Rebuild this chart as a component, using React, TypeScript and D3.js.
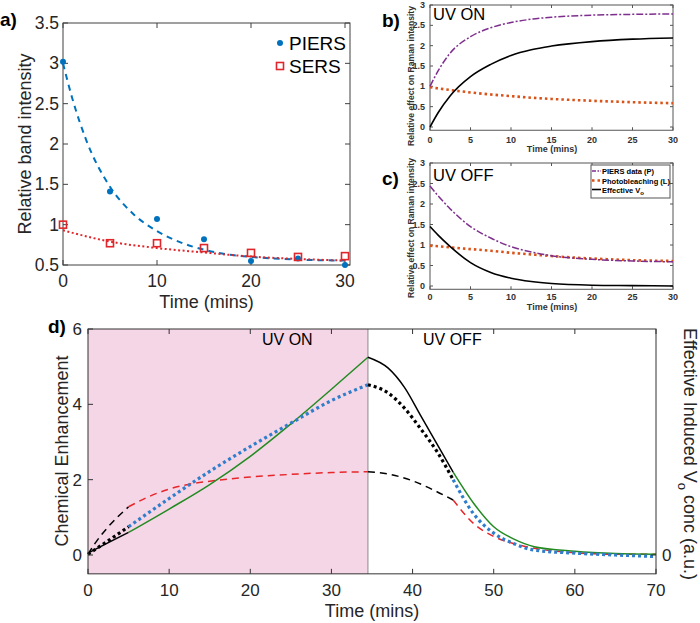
import React from "react";
import * as d3 from "d3";

// ---------- Panel a ----------
const aTimes = [0, 5, 10, 15, 20, 25, 30];
const aPiers = [3.02, 1.41, 1.07, 0.82, 0.55, 0.58, 0.5];
const aSers = [1.0, 0.77, 0.77, 0.71, 0.65, 0.6, 0.61];
const aPiersFitT = [0, 1, 2.5, 5, 7.5, 10, 12.5, 15, 17.5, 20, 25, 30];
const aPiersFit = [3.0, 2.56, 2.04, 1.47, 1.13, 0.92, 0.78, 0.69, 0.63, 0.6, 0.567, 0.555];
const aSersFitT = [0, 5, 10, 15, 20, 25, 30];
const aSersFit = [0.93, 0.79, 0.71, 0.655, 0.605, 0.575, 0.555];
const aXTicks = [0, 10, 20, 30];
const aYTicks = [0.5, 1, 1.5, 2, 2.5, 3, 3.5];

// ---------- Panels b, c ----------
const bcT = [0, 1, 2.5, 5, 7.5, 10, 12.5, 15, 20, 25, 30];
const bPiers = [1.0, 1.38, 1.82, 2.22, 2.44, 2.57, 2.65, 2.7, 2.75, 2.77, 2.78];
const bBleach = [0.98, 0.95, 0.91, 0.85, 0.8, 0.76, 0.72, 0.69, 0.645, 0.61, 0.585];
const bVo = [0.0, 0.35, 0.77, 1.24, 1.54, 1.76, 1.9, 1.99, 2.1, 2.16, 2.19];
const cPiers = [2.44, 2.2, 1.88, 1.45, 1.17, 0.96, 0.83, 0.74, 0.65, 0.61, 0.59];
const cBleach = [0.98, 0.97, 0.94, 0.9, 0.86, 0.81, 0.77, 0.73, 0.67, 0.63, 0.61];
const cVo = [1.45, 1.24, 0.96, 0.57, 0.33, 0.19, 0.11, 0.06, 0.02, 0.01, 0.0];
const bcXTicks = [0, 5, 10, 15, 20, 25, 30];
const bcYTicks = [0, 0.5, 1, 1.5, 2, 2.5, 3];
const bcLegend = ["PIERS data (P)", "Photobleaching (L)", "Effective V"];

// ---------- Panel d ----------
const dSolidT = [0, 2.5, 5, 10, 15, 20, 25, 30, 34.5, 37, 39, 41, 43, 45, 47.5, 50, 52.5, 55, 60, 65, 70];
const dSolid = [0.05, 0.33, 0.6, 1.22, 1.87, 2.62, 3.48, 4.4, 5.25, 4.96, 4.45, 3.7, 2.95, 2.2, 1.38, 0.75, 0.42, 0.22, 0.1, 0.04, 0.02];
const dDottedT = [0, 2.5, 5, 10, 15, 20, 25, 30, 34.5, 37, 39, 41, 43, 45, 47.5, 50, 52.5, 55, 60, 65, 70];
const dDotted = [0.02, 0.38, 0.75, 1.5, 2.22, 2.88, 3.5, 4.1, 4.52, 4.3, 3.9, 3.35, 2.75, 2.0, 1.1, 0.58, 0.3, 0.13, 0.05, 0.0, -0.04];
const dDashedT = [0, 1, 2.5, 5, 7.5, 10, 12.5, 15, 20, 25, 30, 34.5, 37, 40, 43, 45, 47.5, 50, 52.5, 55, 60, 65, 70];
const dDashed = [0.02, 0.35, 0.75, 1.28, 1.55, 1.75, 1.88, 1.96, 2.07, 2.14, 2.19, 2.21, 2.15, 1.97, 1.68, 1.46, 0.84, 0.49, 0.3, 0.18, 0.06, 0.02, 0.02];
const dPhases = [0, 5, 34.5, 45, 70];
const dUvOnEnd = 34.5;
const dXTicks = [0, 10, 20, 30, 40, 50, 60, 70];
const dYTicks = [0, 2, 4, 6];

const FONT = "'Liberation Sans', Arial, Helvetica, sans-serif";

type Scale = d3.ScaleLinear<number, number>;

function mkLine(x: Scale, y: Scale, ts: number[], vs: number[], lo = -Infinity, hi = Infinity) {
  const pts: [number, number][] = ts.map((t, i) => [t, vs[i]] as [number, number]).filter((p) => p[0] >= lo - 1e-9 && p[0] <= hi + 1e-9);
  return d3.line<[number, number]>().x((p) => x(p[0])).y((p) => y(p[1])).curve(d3.curveMonotoneX)(pts) || "";
}

function Frame(props: {
  x: Scale; y: Scale; x0: number; x1: number; y0: number; y1: number;
  xTicks: number[]; yTicks: number[]; len: number; color: string;
  top?: boolean; right?: boolean; left?: boolean;
}) {
  const { x, y, x0, x1, y0, y1, xTicks, yTicks, len, color } = props;
  const left = props.left !== false;
  const els: React.ReactNode[] = [];
  xTicks.forEach((t, i) => {
    els.push(<line key={"xb" + i} x1={x(t)} x2={x(t)} y1={y0} y2={y0 - len} stroke={color} />);
    if (props.top !== false) els.push(<line key={"xt" + i} x1={x(t)} x2={x(t)} y1={y1} y2={y1 + len} stroke={color} />);
  });
  yTicks.forEach((t, i) => {
    if (left) els.push(<line key={"yl" + i} x1={x0} x2={x0 + len} y1={y(t)} y2={y(t)} stroke={color} />);
    if (props.right !== false) els.push(<line key={"yr" + i} x1={x1} x2={x1 - len} y1={y(t)} y2={y(t)} stroke={color} />);
  });
  return (
    <g>
      <rect x={x0} y={y1} width={x1 - x0} height={y0 - y1} fill="none" stroke={color} strokeWidth={1} />
      {els}
    </g>
  );
}

function PanelA() {
  const x = d3.scaleLinear().domain([0, 30]).range([63, 345]);
  const y = d3.scaleLinear().domain([0.5, 3.5]).range([265, 23]);
  const x0 = 63, x1 = 350, y0 = 265, y1 = 23;
  const blue = "#0072BD", red = "#E0262A";
  return (
    <g fontFamily={FONT}>
      <Frame x={x} y={y} x0={x0} x1={x1} y0={y0} y1={y1} xTicks={aXTicks} yTicks={aYTicks} len={5} color="#404040" />
      {aYTicks.map((t) => (
        <text key={t} x={x0 - 4} y={y(t)} dy="0.35em" textAnchor="end" fontSize={17.5} fill="#262626">{String(t)}</text>
      ))}
      {aXTicks.map((t) => (
        <text key={t} x={x(t)} y={287} textAnchor="middle" fontSize={17.5} fill="#262626">{String(t)}</text>
      ))}
      <text x={(x0 + x1) / 2} y={308} textAnchor="middle" fontSize={18} fill="#262626">Time (mins)</text>
      <text transform={`translate(31,${(y0 + y1) / 2}) rotate(-90)`} textAnchor="middle" fontSize={18} fill="#262626">Relative band intensity</text>
      <text x={0} y={26} fontSize={19} fontWeight="bold" fill="#000">a)</text>
      <path d={mkLine(x, y, aPiersFitT, aPiersFit)} fill="none" stroke={blue} strokeWidth={2} strokeDasharray="6 5" />
      <path d={mkLine(x, y, aSersFitT, aSersFit)} fill="none" stroke={red} strokeWidth={2} strokeDasharray="2 2.5" />
      {aTimes.map((t, i) => (
        <circle key={"p" + i} cx={x(t)} cy={y(aPiers[i])} r={3} fill={blue} />
      ))}
      {aTimes.map((t, i) => (
        <rect key={"s" + i} x={x(t) - 3.5} y={y(aSers[i]) - 3.5} width={7} height={7} fill="none" stroke={red} strokeWidth={1.6} />
      ))}
      <circle cx={280} cy={43} r={3} fill={blue} />
      <text x={289} y={50} fontSize={19} fill="#000">PIERS</text>
      <rect x={276.5} y={62.5} width={7} height={7} fill="none" stroke={red} strokeWidth={1.6} />
      <text x={289} y={73} fontSize={19} fill="#000">SERS</text>
    </g>
  );
}

function PanelBC(props: { which: "b" | "c" }) {
  const isB = props.which === "b";
  const x = d3.scaleLinear().domain([0, 30]).range([430, 673]);
  const y = isB ? d3.scaleLinear().domain([0, 3]).range([127, 5]) : d3.scaleLinear().domain([0, 3]).range([286, 163]);
  const x0 = 430, x1 = 673;
  const y1 = y(3), y0 = y(-0.08);
  const P = isB ? bPiers : cPiers;
  const L = isB ? bBleach : cBleach;
  const V = isB ? bVo : cVo;
  const purple = "#7E2F8E", orange = "#D95319";
  const tickY = isB ? 142.5 : 300;
  const labY = isB ? 152 : 310;
  return (
    <g fontFamily={FONT}>
      <Frame x={x} y={y} x0={x0} x1={x1} y0={y0} y1={y1} xTicks={bcXTicks} yTicks={bcYTicks} len={3} color="#555" />
      {bcYTicks.map((t) => (
        <text key={t} x={425} y={y(t)} dy="0.35em" textAnchor="end" fontSize={9} fontWeight="bold" fill="#333">{String(t)}</text>
      ))}
      {bcXTicks.map((t) => (
        <text key={t} x={x(t)} y={tickY} textAnchor="middle" fontSize={9} fontWeight="bold" fill="#333">{String(t)}</text>
      ))}
      <text x={552} y={labY} textAnchor="middle" fontSize={9} fontWeight="bold" fill="#333">Time (mins)</text>
      <text transform={`translate(414,${isB ? 76 : 228}) rotate(-90)`} textAnchor="middle" fontSize={8.6} fontWeight="bold" fill="#333">Relative effect on Raman intensity</text>
      <text x={382} y={isB ? 27 : 185} fontSize={19} fontWeight="bold" fill="#000">{isB ? "b)" : "c)"}</text>
      <text x={433} y={isB ? 20 : 181} fontSize={16.5} fill="#000">{isB ? "UV ON" : "UV OFF"}</text>
      <path d={mkLine(x, y, bcT, L)} fill="none" stroke={orange} strokeWidth={2.6} strokeDasharray="2.5 3" />
      <path d={mkLine(x, y, bcT, V)} fill="none" stroke="#000" strokeWidth={1.6} />
      <path d={mkLine(x, y, bcT, P)} fill="none" stroke={purple} strokeWidth={1.5} strokeDasharray="7 2 2 2" />
      {!isB && (
        <g>
          <rect x={591} y={165} width={79} height={33} fill="#fff" stroke="#555" strokeWidth={1} />
          <line x1={592} x2={601} y1={171} y2={171} stroke={purple} strokeWidth={1.5} strokeDasharray="4 1.5 1.5 1.5" />
          <line x1={592} x2={601} y1={180.5} y2={180.5} stroke={orange} strokeWidth={2.6} strokeDasharray="2.5 3" />
          <line x1={592} x2={601} y1={189.5} y2={189.5} stroke="#000" strokeWidth={1.6} />
          <text x={602} y={174} fontSize={7.5} fontWeight="bold" fill="#000">{bcLegend[0]}</text>
          <text x={602} y={183.5} fontSize={7.5} fontWeight="bold" fill="#000">{bcLegend[1]}</text>
          <text x={602} y={192.5} fontSize={7.5} fontWeight="bold" fill="#000">
            {bcLegend[2]}
            <tspan dy={2.5} fontSize={6}>o</tspan>
          </text>
        </g>
      )}
    </g>
  );
}

function PanelD() {
  const x = d3.scaleLinear().domain([0, 70]).range([88, 656]);
  const y = d3.scaleLinear().domain([0, 6]).range([555, 329]);
  const x0 = 88, x1 = 656, y1 = y(6), y0 = y(-0.5);
  const green = "#228B22", blue = "#2F7DCB", red = "#E8262A";
  const segs = [0, 1, 2, 3].map((i) => ({ lo: dPhases[i], hi: dPhases[i + 1], black: i % 2 === 0 }));
  return (
    <g fontFamily={FONT}>
      <rect x={x(0)} y={y1} width={x(dUvOnEnd) - x(0)} height={y0 - y1} fill="#F5D6E6" />
      <line x1={x(dUvOnEnd)} x2={x(dUvOnEnd)} y1={y1} y2={y0} stroke="#8a8a8a" strokeWidth={1} />
      {segs.map((s, i) => (
        <path key={"da" + i} d={mkLine(x, y, dDashedT, dDashed, s.lo, s.hi)} fill="none" stroke={s.black ? "#000" : red} strokeWidth={1.5} strokeDasharray="7 5" />
      ))}
      {segs.map((s, i) => (
        <path key={"so" + i} d={mkLine(x, y, dSolidT, dSolid, s.lo, s.hi)} fill="none" stroke={s.black ? "#000" : green} strokeWidth={1.5} />
      ))}
      {segs.map((s, i) => (
        <path key={"do" + i} d={mkLine(x, y, dDottedT, dDotted, s.lo, s.hi)} fill="none" stroke={s.black ? "#000" : blue} strokeWidth={3.2} strokeDasharray="3 3" />
      ))}
      <Frame x={x} y={y} x0={x0} x1={x1} y0={y0} y1={y1} xTicks={dXTicks} yTicks={dYTicks} len={5} color="#333" right={false} />
      <line x1={x1} x2={x1 - 5} y1={y(0)} y2={y(0)} stroke="#333" />
      {dYTicks.map((t) => (
        <text key={t} x={82} y={y(t)} dy="0.35em" textAnchor="end" fontSize={17} fill="#262626">{String(t)}</text>
      ))}
      {dXTicks.map((t) => (
        <text key={t} x={x(t)} y={596} textAnchor="middle" fontSize={17} fill="#262626">{String(t)}</text>
      ))}
      <text x={662} y={y(0)} dy="0.35em" fontSize={17} fill="#262626">0</text>
      <text x={(x0 + x1) / 2} y={617} textAnchor="middle" fontSize={18} fill="#262626">Time (mins)</text>
      <text transform={`translate(68,451) rotate(-90)`} textAnchor="middle" fontSize={18} fill="#262626">Chemical Enhancement</text>
      <text transform={`translate(684,328) rotate(90)`} fontSize={18} fill="#262626">
        Effective Induced V<tspan dy={6} fontSize={13}>o</tspan><tspan dy={-6}> conc (a.u.)</tspan>
      </text>
      <text x={262} y={345} fontSize={16} fill="#000">UV ON</text>
      <text x={423} y={345} fontSize={16} fill="#000">UV OFF</text>
      <text x={48} y={333} fontSize={19} fontWeight="bold" fill="#000">d)</text>
    </g>
  );
}

export default function App() {
  return (
    <svg width={700} height={623} viewBox="0 0 700 623" style={{ position: "absolute", left: 0, top: 0, background: "#fff" }}>
      <rect x={0} y={0} width={700} height={623} fill="#fff" />
      <PanelA />
      <PanelBC which="b" />
      <PanelBC which="c" />
      <PanelD />
    </svg>
  );
}
